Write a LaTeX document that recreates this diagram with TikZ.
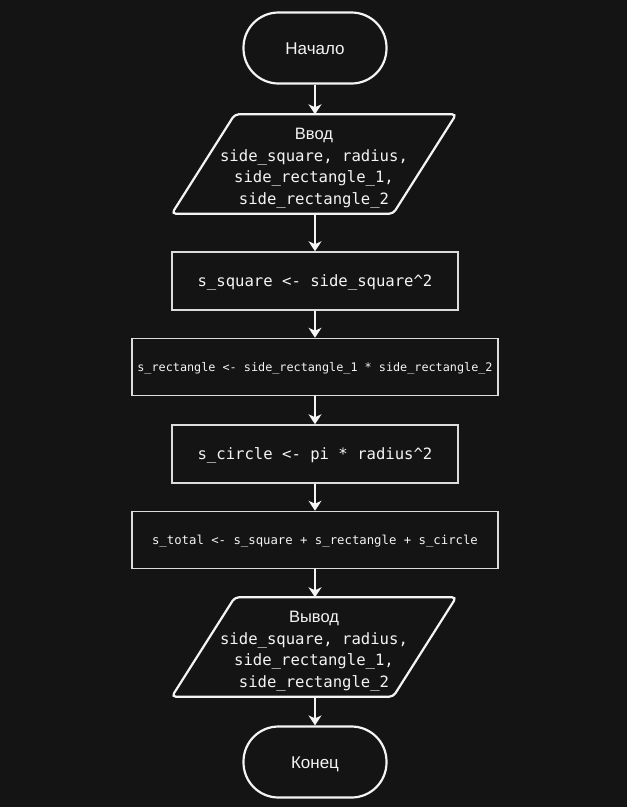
\documentclass[tikz,border=0pt]{standalone}
\usepackage{fontspec}
\setmainfont{Liberation Sans}
\setsansfont{Liberation Sans}
\setmonofont{DejaVu Sans Mono}
\usetikzlibrary{arrows.meta}
\definecolor{bg}{HTML}{141414}
\definecolor{fg}{HTML}{F4F4F4}
\definecolor{rl}{HTML}{DCDCDC}
\tikzset{
  term/.style={draw=fg, line width=2.2pt, rounded corners=35pt, minimum width=143pt, minimum height=71pt, inner sep=0pt, text=fg, text height=12pt, text depth=0pt, font=\fontsize{17}{19}\selectfont\sffamily},
  iobox/.style={minimum width=221pt, minimum height=99pt, inner sep=0pt, text=fg, align=center, font=\fontsize{15.6}{21.5}\selectfont\ttfamily},
  iopath/.style={draw=fg, line width=2.2pt, rounded corners=4pt},
  procbig/.style={draw=rl, line width=1.5pt, minimum width=286pt, minimum height=58pt, inner sep=0pt, text=fg, text height=11pt, text depth=0pt, font=\fontsize{15.6}{19}\selectfont\ttfamily},
  procwide/.style={draw=rl, line width=1.5pt, minimum width=366pt, minimum height=57pt, inner sep=0pt, text=fg, text height=9pt, text depth=0pt},
  conn/.style={draw=fg, line width=1.5pt, -{Stealth[length=10pt,width=13pt,inset=3pt]}}
}
\begin{document}
\begin{tikzpicture}[x=1pt,y=-1pt]
\fill[bg] (0,0) rectangle (627,807);
\useasboundingbox (0,0) rectangle (627,807);

\node[term] (start) at (315,48) {Начало};

\node[iobox] (in1) at (314,168) {{\fontsize{16.5}{21.5}\selectfont\sffamily Ввод}\\side\_square, radius,\\side\_rectangle\_1,\\side\_rectangle\_2};
\path[iopath] ([yshift=4pt]in1.north) -- ([xshift=31.5pt,yshift=4pt]in1.north east) -- ([xshift=-31.5pt,yshift=4pt]in1.south east) -- ([xshift=-31.5pt,yshift=4pt]in1.south west) -- ([xshift=31.5pt,yshift=4pt]in1.north west) -- ([yshift=4pt]in1.north);

\node[procbig] (p1) at (315,281) {s\_square <- side\_square\^{}2};
\node[procwide, font=\fontsize{11.8}{14}\selectfont\ttfamily] (p2) at (315,367) {s\_rectangle <- side\_rectangle\_1 * side\_rectangle\_2};
\node[procbig] (p3) at (315,454) {s\_circle <- pi * radius\^{}2};
\node[procwide, font=\fontsize{12.3}{14}\selectfont\ttfamily] (p4) at (315,540) {s\_total <- s\_square + s\_rectangle + s\_circle};

\node[iobox] (out1) at (314,651) {{\fontsize{16.5}{21.5}\selectfont\sffamily Вывод}\\side\_square, radius,\\side\_rectangle\_1,\\side\_rectangle\_2};
\path[iopath] ([yshift=4pt]out1.north) -- ([xshift=31.5pt,yshift=4pt]out1.north east) -- ([xshift=-31.5pt,yshift=4pt]out1.south east) -- ([xshift=-31.5pt,yshift=4pt]out1.south west) -- ([xshift=31.5pt,yshift=4pt]out1.north west) -- ([yshift=4pt]out1.north);

\node[term] (end) at (315,762) {Конец};

\draw[conn] (start.south) -- ([yshift=4pt]start.south |- in1.north);
\draw[conn] ([yshift=4pt]start.south |- in1.south) -- (p1.north);
\draw[conn] (p1.south) -- (p2.north);
\draw[conn] (p2.south) -- (p3.north);
\draw[conn] (p3.south) -- (p4.north);
\draw[conn] (p4.south) -- ([yshift=4pt]p4.south |- out1.north);
\draw[conn] ([yshift=4pt]p4.south |- out1.south) -- (end.north);
\end{tikzpicture}
\end{document}
